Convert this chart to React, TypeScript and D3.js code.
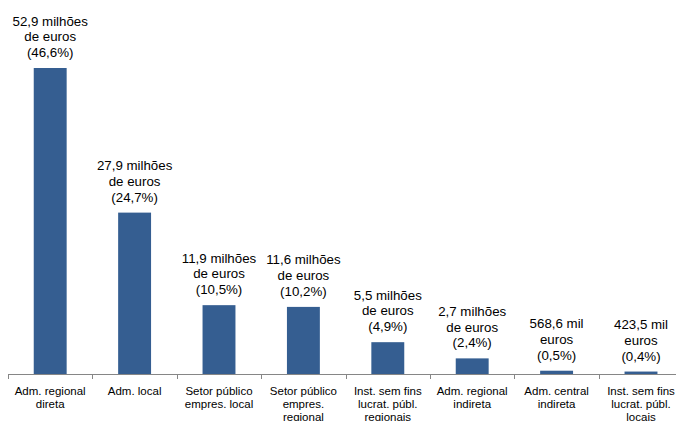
import React from "react";
import * as d3 from "d3";

const categories = [
  ["Adm. regional", "direta"],
  ["Adm. local"],
  ["Setor público", "empres. local"],
  ["Setor público", "empres.", "regional"],
  ["Inst. sem fins", "lucrat. públ.", "regionais"],
  ["Adm. regional", "indireta"],
  ["Adm. central", "indireta"],
  ["Inst. sem fins", "lucrat. públ.", "locais"],
];
const valuesMillions = [52.9, 27.9, 11.9, 11.6, 5.5, 2.7, 0.5686, 0.4235];
const valueLabels = [
  ["52,9 milhões", "de euros", "(46,6%)"],
  ["27,9 milhões", "de euros", "(24,7%)"],
  ["11,9 milhões", "de euros", "(10,5%)"],
  ["11,6 milhões", "de euros", "(10,2%)"],
  ["5,5 milhões", "de euros", "(4,9%)"],
  ["2,7 milhões", "de euros", "(2,4%)"],
  ["568,6 mil", "euros", "(0,5%)"],
  ["423,5 mil", "euros", "(0,4%)"],
];

const W = 676;
const H = 421;
const axisY = 374;
const x0 = 8;
const step = 84.4;

export default function App() {
  const ids = categories.map((_, i) => String(i));
  const x = d3
    .scaleBand<string>()
    .domain(ids)
    .range([x0, x0 + step * ids.length])
    .paddingInner(0.61)
    .paddingOuter(0.305);
  const y = d3.scaleLinear().domain([0, 52.9]).range([axisY, 68]);
  const font = "'Liberation Sans', Arial, sans-serif";
  const tickXs = ids.map((id) => (x(id) as number) - (x.step() * x.paddingInner()) / 2);
  tickXs.push(x0 + step * ids.length);

  return (
    <svg
      width={W}
      height={H}
      style={{ position: "absolute", left: 0, top: 0, display: "block" }}
      fontFamily={font}
    >
      <rect x={0} y={0} width={W} height={H} fill="#ffffff" />
      {ids.map((id, i) => {
        const bx = x(id) as number;
        const top = y(valuesMillions[i]);
        const cx = bx + x.bandwidth() / 2;
        const lines = valueLabels[i];
        return (
          <g key={id}>
            <rect
              x={bx}
              y={top}
              width={x.bandwidth()}
              height={axisY - top}
              fill="#355e91"
            />
            {lines.map((t, j) => (
              <text
                key={j}
                x={cx}
                y={top - 11 - (lines.length - 1 - j) * 15.7}
                textAnchor="middle"
                fontSize={13.3}
                fill="#000"
              >
                {t}
              </text>
            ))}
            {categories[i].map((t, j) => (
              <text
                key={"c" + j}
                x={cx}
                y={395 + j * 13}
                textAnchor="middle"
                fontSize={11.5}
                fill="#000"
              >
                {t}
              </text>
            ))}
          </g>
        );
      })}
      <line x1={x0} x2={W} y1={axisY + 0.5} y2={axisY + 0.5} stroke="#868686" strokeWidth={1} />
      {tickXs.map((tx, i) => (
        <line
          key={i}
          x1={Math.round(tx) + 0.5}
          x2={Math.round(tx) + 0.5}
          y1={axisY}
          y2={axisY + 5}
          stroke="#868686"
          strokeWidth={1}
        />
      ))}
    </svg>
  );
}
